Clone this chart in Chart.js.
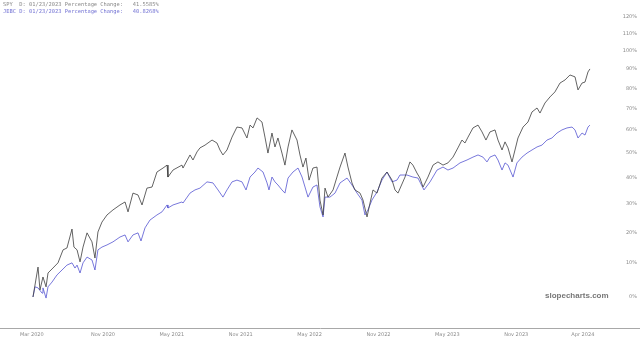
<!DOCTYPE html>
<html>
<head>
<meta charset="utf-8">
<script src="https://cdn.jsdelivr.net/npm/chart.js@4.4.1/dist/chart.umd.min.js"></script>
<style>
  html, body { margin: 0; padding: 0; background: #fff; }
  #wrap { position: relative; width: 640px; height: 342px; }
  #hdr { position: absolute; left: 3px; top: 1px; font: 5.4px "DejaVu Sans Mono", monospace; line-height: 7px; white-space: pre; }
  #hdr .a { color: #8a8a8a; }
  #hdr .b { color: #7474d4; }
  #mark { position: absolute; left: 545px; top: 291px; font: bold 8px "Liberation Sans", Arial, sans-serif; color: #777; }
</style>
</head>
<body>
<div id="wrap">
  <canvas id="mainChart" width="640" height="342"></canvas>
  <div id="hdr"><div class="a">SPY  D: 01/23/2023 Percentage Change:   41.5585%</div><div class="b">JEBC D: 01/23/2023 Percentage Change:   40.8268%</div></div>
  <div id="mark">slopecharts.com</div>
</div>
<script>
// x = months since Jan 2020, values = % change
const spyMonths = [3.90, 4.34, 4.51, 4.77, 5.04, 5.21, 5.64, 6.08, 6.52, 6.86, 7.30, 7.47, 7.74, 8.00, 8.26, 8.61, 9.04, 9.30, 9.56, 9.91,
  10.35, 10.87, 11.48, 11.92, 12.18, 12.61, 13.05, 13.40, 13.83, 14.27, 14.70, 15.23, 15.58, 15.66, 16.10, 16.88, 16.97, 17.58, 17.84, 18.19,
  18.45, 18.89, 19.50, 19.93, 20.19, 20.45, 20.80, 21.24, 21.67, 22.11, 22.54, 22.81, 23.07, 23.42, 23.85, 24.11, 24.37, 24.72, 24.98, 25.24,
  25.59, 25.85, 26.12, 26.46, 26.90, 27.16, 27.42, 27.68, 27.95, 28.29, 28.64, 28.90, 29.17, 29.34, 29.60, 30.04, 30.38, 30.65, 31.08, 31.34,
  31.69, 31.95, 32.39, 32.65, 33.00, 33.26, 33.52, 33.87, 34.30, 34.74, 35.18, 35.44, 35.70, 36.31, 36.74, 37.00, 37.35, 37.61, 37.88, 38.31,
  38.75, 39.18, 39.62, 40.05, 40.49, 40.92, 41.27, 41.53, 41.80, 42.23, 42.67, 43.02, 43.36, 43.71, 44.15, 44.41, 44.76, 45.02, 45.28, 45.63,
  45.89, 46.15, 46.59, 47.02, 47.37, 47.81, 48.07, 48.50, 48.94, 49.37, 49.81, 50.25, 50.68, 51.12, 51.38, 51.73, 51.99, 52.25, 52.42];
const spyPct = [0, 8.8, 2.0, 5.8, 2.9, 7.0, 8.5, 10.1, 14.2, 14.8, 21.1, 15.1, 14.2, 10.4, 15.1, 19.8, 16.8, 11.6, 20.1, 23.5,
  26.0, 27.8, 29.6, 30.7, 27.1, 34.0, 33.3, 29.6, 35.9, 36.3, 42.2, 43.8, 45.0, 40.2, 43.0, 45.0, 43.8, 49.2, 47.1, 50.5,
  52.2, 53.4, 55.6, 54.3, 51.3, 49.2, 51.3, 56.9, 61.4, 61.0, 56.5, 62.3, 61.0, 65.6, 63.7, 56.9, 50.0, 58.7, 52.6, 56.5,
  50.0, 45.0, 52.6, 60.1, 55.6, 49.2, 44.2, 47.9, 39.0, 43.8, 44.2, 31.4, 26.0, 35.9, 32.5, 35.2, 40.2, 44.2, 50.0, 44.2,
  37.9, 35.2, 34.0, 31.4, 25.3, 30.3, 35.2, 34.0, 39.8, 42.2, 39.0, 35.2, 34.0, 40.2, 46.3, 45.0, 41.8, 39.8, 36.3, 40.2,
  45.0, 46.3, 45.0, 45.9, 48.3, 52.2, 55.6, 54.3, 56.9, 61.0, 62.3, 59.2, 55.6, 59.2, 60.1, 55.6, 51.3, 54.8, 52.2, 46.3,
  51.3, 56.5, 61.4, 63.7, 68.4, 70.3, 67.9, 72.7, 75.7, 78.2, 82.7, 84.3, 86.9, 85.9, 79.2, 82.7, 83.2, 88.5, 90.1];

const jebcMonths = [3.90, 4.08, 4.34, 4.69, 4.77, 5.04, 5.21, 5.56, 5.99, 6.43, 6.86, 7.30, 7.56, 7.74, 8.00, 8.26, 8.61, 9.04, 9.30, 9.56,
  9.91, 10.35, 10.87, 11.48, 11.92, 12.18, 12.61, 13.05, 13.31, 13.66, 14.09, 14.70, 15.14, 15.58, 15.66, 16.10, 16.88, 16.97, 17.58, 18.01,
  18.45, 19.06, 19.58, 20.02, 20.45, 20.80, 21.24, 21.67, 22.11, 22.46, 22.81, 23.24, 23.50, 23.94, 24.29, 24.46, 24.72, 24.98, 25.24, 25.59,
  25.85, 26.12, 26.55, 26.99, 27.34, 27.60, 27.86, 28.29, 28.64, 28.90, 29.17, 29.34, 29.77, 30.21, 30.65, 31.26, 31.69, 32.13, 32.56, 32.82,
  33.08, 33.43, 33.87, 34.30, 34.74, 35.18, 35.61, 35.87, 36.48, 37.00, 37.44, 37.96, 38.49, 39.10, 39.62, 40.05, 40.49, 41.10, 41.71, 42.23,
  42.67, 43.10, 43.45, 43.71, 44.15, 44.41, 44.76, 45.02, 45.28, 45.72, 46.06, 46.50, 46.94, 47.37, 47.81, 48.24, 48.68, 49.11, 49.55, 49.98,
  50.42, 50.86, 51.12, 51.38, 51.73, 51.99, 52.25, 52.42];
const jebcPct = [0, 2.9, 2.6, 1.1, 2.6, -0.3, 2.9, 4.3, 6.4, 7.9, 9.4, 10.1, 8.5, 9.4, 7.0, 10.1, 11.9, 11.0, 7.9, 14.2,
  15.1, 15.8, 16.8, 18.4, 19.1, 16.8, 19.1, 19.8, 17.1, 21.5, 24.2, 26.0, 27.1, 29.6, 28.5, 29.6, 30.7, 30.3, 34.0, 35.2,
  35.9, 38.3, 37.9, 35.2, 32.5, 35.2, 38.3, 39.0, 38.3, 35.2, 40.2, 42.2, 43.8, 42.2, 37.9, 35.2, 40.2, 38.3, 37.1, 35.2,
  34.0, 39.8, 42.2, 43.8, 40.2, 36.3, 32.5, 36.3, 37.1, 28.9, 25.3, 32.5, 32.5, 34.0, 37.9, 39.8, 37.1, 34.0, 31.4, 26.0,
  27.8, 31.4, 34.4, 39.0, 42.2, 38.3, 39.0, 41.0, 41.0, 40.2, 39.8, 35.2, 38.3, 43.0, 44.2, 43.0, 43.8, 45.9, 47.1, 48.3,
  49.2, 48.3, 46.3, 48.3, 49.2, 47.1, 43.0, 45.9, 45.0, 40.2, 45.9, 48.3, 50.0, 51.3, 52.6, 53.4, 55.6, 56.5, 58.7, 60.1,
  61.0, 61.4, 60.1, 56.5, 58.7, 57.8, 61.4, 62.3];

const yTickPct = [0, 10, 20, 30, 40, 50, 60, 70, 80, 90, 100, 110, 120];
const xTickMonths = [3.8, 10, 16, 22, 28, 34, 40, 46, 51.8];
const xTickLabels = ['Mar 2020', 'Nov 2020', 'May 2021', 'Nov 2021', 'May 2022', 'Nov 2022', 'May 2023', 'Nov 2023', 'Apr 2024'];

// price ratio for the log axis
const toPoints = (months, pct) => months.map((m, i) => ({ x: m, y: 1 + pct[i] / 100 }));

const ctx = document.getElementById('mainChart').getContext('2d');
new Chart(ctx, {
    type: 'line',
    data: {
        datasets: [
            {
                label: 'SPY',
                data: toPoints(spyMonths, spyPct),
                borderColor: '#3c3c3c',
                borderWidth: 0.8,
                pointRadius: 0,
                tension: 0,
                fill: false
            },
            {
                label: 'JEBC',
                data: toPoints(jebcMonths, jebcPct),
                borderColor: '#5656d2',
                borderWidth: 0.8,
                pointRadius: 0,
                tension: 0,
                fill: false
            }
        ]
    },
    options: {
        responsive: false,
        animation: false,
        layout: { padding: { left: 0, right: 0, top: 0, bottom: 0 } },
        plugins: {
            legend: { display: false },
            tooltip: { enabled: false }
        },
        scales: {
            x: {
                type: 'linear',
                min: 1.028,
                max: 56.78,
                grid: { display: false, drawTicks: false },
                border: { display: true, color: '#a8a8a8', width: 1 },
                afterBuildTicks: (scale) => { scale.ticks = xTickMonths.map(v => ({ value: v })); },
                afterFit: (scale) => { scale.paddingLeft = 0; scale.paddingRight = 0; },
                ticks: {
                    autoSkip: false,
                    maxRotation: 0,
                    padding: 4,
                    color: '#8c8c8c',
                    font: { size: 5, family: 'DejaVu Sans' },
                    callback: (v) => xTickLabels[xTickMonths.indexOf(v)]
                }
            },
            y: {
                type: 'logarithmic',
                position: 'right',
                min: 0.9164,
                max: 2.3085,
                grid: { display: false, drawTicks: false },
                border: { display: false },
                afterBuildTicks: (scale) => { scale.ticks = yTickPct.map(p => ({ value: 1 + p / 100 })); },
                afterFit: (scale) => { scale.paddingTop = 0; scale.paddingBottom = 0; scale.width = 0; },
                ticks: {
                    mirror: true,
                    padding: -3,
                    color: '#8c8c8c',
                    font: { size: 5, family: 'DejaVu Sans' },
                    callback: (v) => Math.round((v - 1) * 100) + '%'
                }
            }
        }
    }
});
</script>
</body>
</html>
